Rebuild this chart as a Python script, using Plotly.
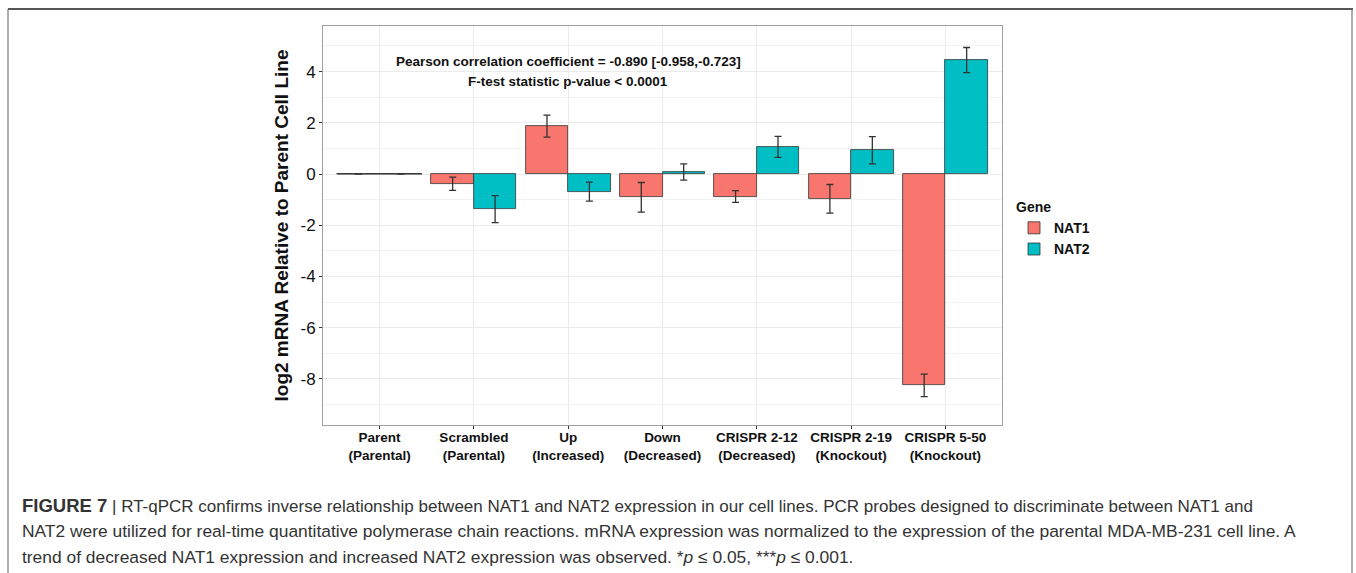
import plotly.graph_objects as go

# Cell lines (x axis) and their phenotype labels
lines = ["Parent", "Scrambled", "Up", "Down", "CRISPR 2-12", "CRISPR 2-19", "CRISPR 5-50"]
groups = ["(Parental)", "(Parental)", "(Increased)", "(Decreased)", "(Decreased)", "(Knockout)", "(Knockout)"]

# log2 mRNA relative to parent cell line, with error half-widths
nat1 = [0.0, -0.38, 1.87, -0.91, -0.88, -0.97, -8.25]
nat1_err = [0.0, 0.26, 0.43, 0.58, 0.23, 0.56, 0.44]
nat2 = [0.0, -1.37, -0.69, 0.08, 1.06, 0.93, 4.45]
nat2_err = [0.0, 0.53, 0.37, 0.32, 0.41, 0.53, 0.49]

y_ticks = [-8, -6, -4, -2, 0, 2, 4]

W, H = 1356, 573
ML, MR, MT, MB = 323, 354, 26, 148
PW, PH = W - ML - MR, H - MT - MB

FONT = "Liberation Sans, Arial, Helvetica, sans-serif"
C1, C2 = "#F8766D", "#00BFC4"
BAR_W = 0.45


def px_x(px):
    return (px - ML) / PW


def px_y(py):
    return (H - MB - py) / PH


xpos = list(range(1, len(lines) + 1))
fig = go.Figure()

for name, vals, errs, col, off in [("NAT1", nat1, nat1_err, C1, -BAR_W / 2),
                                   ("NAT2", nat2, nat2_err, C2, BAR_W / 2)]:
    fig.add_trace(go.Bar(
        x=[p + off for p in xpos], y=vals, width=BAR_W, name=f"<b>{name}</b>",
        marker=dict(color=col, line=dict(color="#333333", width=0.8)),
        error_y=dict(type="data", array=errs, visible=True, color="#333333",
                     thickness=1.3, width=3.5),
    ))
    # bars with zero height are drawn as their outline segment
    for p, v in zip(xpos, vals):
        if v == 0:
            fig.add_trace(go.Scatter(
                x=[p + off - BAR_W / 2, p + off + BAR_W / 2], y=[0, 0], mode="lines",
                line=dict(color="#333333", width=1.2), showlegend=False, hoverinfo="skip"))

fig.update_layout(
    width=W, height=H, margin=dict(l=ML, r=MR, t=MT, b=MB),
    paper_bgcolor="white", plot_bgcolor="white",
    barmode="overlay", bargap=0,
    font=dict(family=FONT, color="#1a1a1a"),
    legend=dict(
        title=dict(text="<b>Gene</b>", font=dict(size=14, color="#111")),
        font=dict(size=14, color="#111"),
        x=px_x(1014), y=px_y(194), xanchor="left", yanchor="top",
        bgcolor="rgba(0,0,0,0)", tracegroupgap=0, itemwidth=30,
    ),
)

fig.update_xaxes(
    range=[0.4, len(lines) + 0.6], tickmode="array", tickvals=xpos,
    ticktext=[f"<b>{a}<br>{b}</b>" for a, b in zip(lines, groups)],
    tickfont=dict(size=13.5, color="#111"), ticklabelstandoff=-3,
    showgrid=True, gridcolor="#EBEBEB", gridwidth=1,
    ticks="outside", ticklen=3, tickcolor="#333", zeroline=False,
    showline=True, linecolor="#A0A0A0", linewidth=1, mirror=True,
)
fig.update_yaxes(
    range=[-9.8, 5.78], tickmode="array", tickvals=y_ticks,
    ticktext=[str(v) for v in y_ticks],
    tickfont=dict(size=17, color="#111"),
    showgrid=True, gridcolor="#EBEBEB", gridwidth=1.2,
    minor=dict(tickvals=[v + 1 for v in y_ticks] + [-9], showgrid=True,
               gridcolor="#F2F2F2", gridwidth=0.8),
    ticks="outside", ticklen=3, tickcolor="#333", zeroline=False,
    showline=True, linecolor="#A0A0A0", linewidth=1, mirror=True,
    title=dict(text="<b>log2 mRNA Relative to Parent Cell Line</b>",
               font=dict(size=19, color="#111"), standoff=6),
)

# statistics annotation
fig.add_annotation(x=3, y=4.4, xref="x", yref="y", showarrow=False,
                   text="<b>Pearson correlation coefficient = -0.890 [-0.958,-0.723]</b>",
                   font=dict(size=13.5, color="#111"))
fig.add_annotation(x=3, y=3.62, xref="x", yref="y", showarrow=False,
                   text="<b>F-test statistic p-value < 0.0001</b>",
                   font=dict(size=13.5, color="#111"))

# outer figure frame
fig.add_shape(type="line", xref="paper", yref="paper",
              x0=px_x(8), x1=px_x(1353), y0=px_y(9), y1=px_y(9),
              line=dict(color="#555", width=2))
for xp in (8, 1352):
    fig.add_shape(type="line", xref="paper", yref="paper",
                  x0=px_x(xp), x1=px_x(xp), y0=px_y(9), y1=px_y(575),
                  line=dict(color="#777", width=1.2))

# caption
caption = [
    "<span style='font-size:18.5px'><b>FIGURE 7</b></span> | RT-qPCR confirms inverse relationship between "
    "NAT1 and NAT2 expression in our cell lines. PCR probes designed to discriminate between NAT1 and",
    "NAT2 were utilized for real-time quantitative polymerase chain reactions. mRNA expression was normalized "
    "to the expression of the parental MDA-MB-231 cell line. A",
    "trend of decreased NAT1 expression and increased NAT2 expression was observed. "
    "*<i>p</i> ≤ 0.05, ***<i>p</i> ≤ 0.001.",
]
for i, line in enumerate(caption):
    fig.add_annotation(x=px_x(20), y=px_y(505 + 26 * i), xref="paper", yref="paper",
                       xanchor="left", yanchor="middle", showarrow=False, text=line,
                       font=dict(size=17.4 if i else 17, color="#333", family=FONT))

fig.write_html("out.html")
